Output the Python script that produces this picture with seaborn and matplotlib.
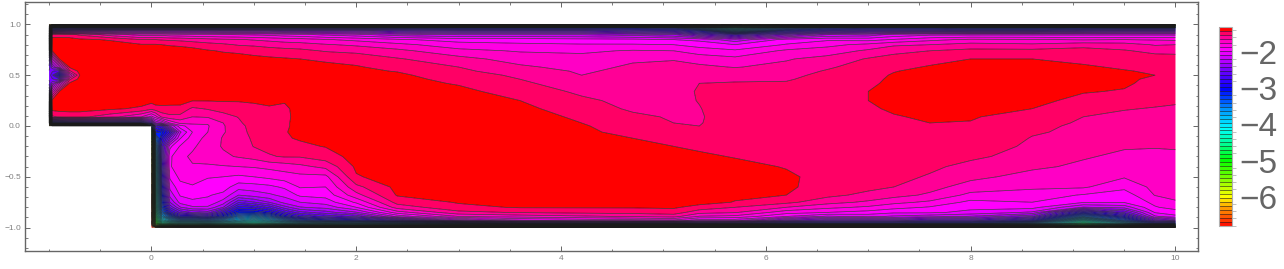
import numpy as np
import seaborn as sns
import matplotlib
matplotlib.use("Agg")
import matplotlib.pyplot as plt
from matplotlib.colors import LinearSegmentedColormap, Normalize
from matplotlib.ticker import MultipleLocator, FixedLocator, FuncFormatter

# grid: log10 values along each x station
y_rows = [1.0, 0.985, 0.965, 0.94, 0.9, 0.85, 0.8, 0.74, 0.66, 0.58,
          0.54, 0.5, 0.46, 0.42, 0.34, 0.25, 0.17, 0.09, 0.03, 0.0,
          -0.06, -0.12, -0.2, -0.3, -0.4, -0.5, -0.6, -0.68, -0.75, -0.8,
          -0.85, -0.89, -0.93, -0.96, -0.98, -1.0]

x_inlet = [-1, -0.97, -0.9, -0.8, -0.7, -0.4, -0.1]
z_inlet = [
    [-6.5, -6, -5.5, -5, -4.8, -4.6, -4.2, -3.2, -2.8, -2.6,
     -2.5, -2.45, -2.5, -2.6, -2.9, -3.4, -4.4, -4.8, -5.5, -6.5],
    [-6, -4.6, -3.3, -2.6, -1.47, -1.38, -1.37, -1.42, -1.95, -2.35,
     -2.5, -2.6, -2.5, -2.35, -1.8, -1.38, -1.38, -1.55, -3.2, -6],
    [-6, -4.4, -3.2, -2.5, -1.47, -1.38, -1.36, -1.36, -1.42, -2.0,
     -2.6, -3.0, -2.6, -2.0, -1.42, -1.36, -1.37, -1.52, -3.1, -6],
    [-6, -4.4, -3.1, -2.45, -1.5, -1.37, -1.35, -1.34, -1.36, -1.40,
     -1.55, -1.85, -1.55, -1.40, -1.36, -1.35, -1.37, -1.5, -3.0, -6],
    [-6, -4.4, -3.1, -2.4, -1.55, -1.4, -1.34, -1.33, -1.34, -1.35,
     -1.38, -1.42, -1.38, -1.35, -1.34, -1.34, -1.37, -1.5, -3.0, -6],
    [-6, -4.4, -3.1, -2.4, -1.7, -1.43, -1.38, -1.35, -1.34, -1.34,
     -1.34, -1.34, -1.34, -1.34, -1.34, -1.35, -1.40, -1.6, -2.9, -6],
    [-6, -4.4, -3.1, -2.4, -1.8, -1.53, -1.41, -1.36, -1.34, -1.34,
     -1.34, -1.34, -1.34, -1.34, -1.34, -1.37, -1.44, -1.75, -3.0, -6],
]

x_channel = [0, 0.04, 0.1, 0.18, 0.28, 0.4, 0.55, 0.7, 0.85, 1, 1.15, 1.3, 1.45, 1.7,
             2, 2.4, 3, 3.6, 4.2, 4.7, 5.1, 5.35, 5.7, 6.2, 6.6, 7, 7.25, 7.6, 8, 8.6,
             9.1, 9.5, 9.8, 10]
z_channel = [
    [-6, -4.4, -3.1, -2.4, -1.8, -1.53, -1.41, -1.36, -1.34, -1.34,
     -1.34, -1.34, -1.34, -1.34, -1.34, -1.38, -1.5, -1.9, -2.6, -3.5,
     -5, -5.5, -5.8, -6, -6.2, -6.3, -6.4, -6.5, -6.5, -6.5, -6.6, -6.6, -6.7, -6.7, -6.8, -6.8],
    [-6, -4.4, -3.1, -2.4, -1.8, -1.53, -1.41, -1.36, -1.34, -1.34,
     -1.34, -1.34, -1.34, -1.34, -1.34, -1.37, -1.46, -1.8, -2.2, -2.6,
     -3, -3.5, -3.8, -4, -4.2, -4.3, -4.4, -4.5, -4.5, -4.6, -4.7, -4.8, -5, -5.2, -5.6, -6.5],
    [-6, -4.4, -3.1, -2.4, -1.8, -1.54, -1.42, -1.36, -1.34, -1.34,
     -1.34, -1.34, -1.34, -1.34, -1.34, -1.39, -1.44, -1.62, -2.1, -2.7,
     -3.1, -2.9, -2.7, -2.7, -2.8, -2.9, -3, -3.1, -3.2, -3.3, -3.5, -3.8, -4.2, -4.6, -5.2, -6.5],
    [-6, -4.4, -3.1, -2.4, -1.82, -1.55, -1.43, -1.37, -1.34, -1.34,
     -1.34, -1.34, -1.34, -1.34, -1.34, -1.38, -1.45, -1.56, -1.85, -2.2,
     -2.75, -2.4, -2, -1.88, -1.88, -1.95, -2.05, -2.15, -2.3, -2.5, -2.8, -3.3, -3.9, -4.5, -5.2, -6.5],
    [-6, -4.4, -3.1, -2.4, -1.83, -1.56, -1.44, -1.37, -1.34, -1.34,
     -1.34, -1.34, -1.34, -1.34, -1.34, -1.37, -1.46, -1.56, -1.72, -1.9,
     -2.1, -1.98, -1.85, -1.78, -1.76, -1.83, -1.9, -1.96, -2.04, -2.2, -2.5, -2.9, -3.6, -4.3, -5, -6.5],
    [-6, -4.4, -3.1, -2.4, -1.84, -1.58, -1.46, -1.38, -1.35, -1.34,
     -1.34, -1.34, -1.34, -1.34, -1.35, -1.415, -1.55, -1.64, -1.72, -1.8,
     -1.86, -1.8, -1.77, -1.73, -1.76, -1.82, -1.87, -1.94, -1.99, -2.1, -2.4, -2.9, -3.6, -4.3, -5, -6.5],
    [-6, -4.4, -3.1, -2.4, -1.85, -1.6, -1.49, -1.41, -1.36, -1.34,
     -1.34, -1.34, -1.34, -1.34, -1.35, -1.415, -1.52, -1.63, -1.74, -1.76,
     -1.75, -1.72, -1.69, -1.69, -1.77, -1.85, -1.92, -1.96, -2, -2.1, -2.35, -2.8, -3.5, -4.2, -5, -6.5],
    [-6, -4.4, -3.1, -2.45, -1.86, -1.62, -1.51, -1.43, -1.37, -1.35,
     -1.34, -1.34, -1.34, -1.34, -1.35, -1.41, -1.49, -1.57, -1.64, -1.65,
     -1.65, -1.63, -1.63, -1.66, -1.76, -1.86, -1.92, -2, -2.13, -2.3, -2.7, -3.1, -3.7, -4.3, -5, -6.5],
    [-6, -4.4, -3.1, -2.45, -1.87, -1.63, -1.54, -1.44, -1.38, -1.35,
     -1.34, -1.34, -1.34, -1.34, -1.35, -1.41, -1.48, -1.525, -1.55, -1.57,
     -1.58, -1.585, -1.6, -1.63, -1.75, -1.88, -2.03, -2.19, -2.5, -2.8, -3.1, -3.5, -3.9, -4.4, -5.1, -6.5],
    [-6, -4.4, -3.1, -2.45, -1.88, -1.65, -1.55, -1.46, -1.39, -1.36,
     -1.35, -1.35, -1.35, -1.35, -1.36, -1.41, -1.44, -1.46, -1.47, -1.48,
     -1.49, -1.51, -1.525, -1.6, -1.74, -1.86, -2.02, -2.14, -2.42, -2.75, -3.1, -3.6, -4.1, -4.5, -5.1, -6.5],
    [-6, -4.4, -3.1, -2.45, -1.9, -1.67, -1.57, -1.48, -1.4, -1.37,
     -1.36, -1.35, -1.35, -1.35, -1.36, -1.41, -1.425, -1.44, -1.45, -1.46,
     -1.47, -1.48, -1.5, -1.54, -1.72, -1.83, -2, -2.1, -2.3, -2.6, -2.95, -3.4, -3.9, -4.4, -5.1, -6.5],
    [-6, -4.4, -3.1, -2.5, -1.93, -1.69, -1.59, -1.49, -1.41, -1.38,
     -1.37, -1.36, -1.36, -1.36, -1.37, -1.415, -1.43, -1.43, -1.43, -1.43,
     -1.425, -1.43, -1.46, -1.52, -1.7, -1.8, -1.95, -2.05, -2.15, -2.35, -2.65, -3, -3.6, -4.2, -5, -6.5],
    [-6, -4.4, -3.1, -2.5, -1.95, -1.7, -1.6, -1.5, -1.42, -1.38,
     -1.37, -1.36, -1.36, -1.36, -1.36, -1.38, -1.4, -1.405, -1.4, -1.4,
     -1.4, -1.41, -1.44, -1.52, -1.67, -1.78, -1.85, -1.95, -2.08, -2.2, -2.45, -2.75, -3.3, -4, -4.8, -6.5],
    [-6, -4.4, -3.1, -2.5, -2, -1.74, -1.63, -1.54, -1.44, -1.39,
     -1.38, -1.37, -1.37, -1.36, -1.36, -1.37, -1.38, -1.38, -1.38, -1.385,
     -1.39, -1.4, -1.415, -1.47, -1.61, -1.78, -1.86, -1.93, -2.03, -2.15, -2.35, -2.6, -3.1, -3.9, -4.7, -6.5],
    [-6, -4.4, -3.1, -2.5, -2.05, -1.78, -1.66, -1.56, -1.46, -1.41,
     -1.4, -1.39, -1.38, -1.37, -1.36, -1.35, -1.35, -1.35, -1.35, -1.35,
     -1.35, -1.36, -1.37, -1.38, -1.4, -1.43, -1.56, -1.68, -1.84, -1.97, -2.2, -2.5, -3, -3.8, -4.6, -6.5],
    [-6, -4.4, -3.1, -2.6, -2.15, -1.84, -1.72, -1.61, -1.52, -1.46,
     -1.425, -1.4, -1.39, -1.38, -1.36, -1.35, -1.34, -1.34, -1.34, -1.34,
     -1.34, -1.34, -1.34, -1.34, -1.35, -1.37, -1.39, -1.41, -1.49, -1.59, -1.8, -2.05, -2.7, -3.6, -4.5, -6.5],
    [-6, -4.4, -3.1, -2.65, -2.2, -1.91, -1.81, -1.72, -1.6, -1.53,
     -1.51, -1.48, -1.45, -1.43, -1.39, -1.37, -1.35, -1.34, -1.34, -1.34,
     -1.34, -1.34, -1.34, -1.34, -1.34, -1.35, -1.37, -1.39, -1.41, -1.45, -1.56, -1.75, -2.2, -3.3, -4.4, -6.5],
    [-6, -4.4, -3.1, -2.65, -2.2, -1.91, -1.84, -1.76, -1.69, -1.62,
     -1.58, -1.55, -1.53, -1.51, -1.47, -1.42, -1.39, -1.37, -1.36, -1.35,
     -1.35, -1.35, -1.35, -1.35, -1.35, -1.36, -1.37, -1.38, -1.39, -1.41, -1.52, -1.7, -2, -3, -4.3, -6.5],
    [-6, -4.4, -3.1, -2.65, -2.2, -1.93, -1.85, -1.77, -1.71, -1.68,
     -1.655, -1.64, -1.61, -1.59, -1.55, -1.51, -1.48, -1.44, -1.42, -1.41,
     -1.4, -1.39, -1.38, -1.37, -1.36, -1.36, -1.37, -1.38, -1.39, -1.41, -1.5, -1.66, -1.95, -2.9, -4.2, -6.5],
    [-6, -4.4, -3.1, -2.75, -2.25, -1.94, -1.85, -1.74, -1.66, -1.62,
     -1.61, -1.6, -1.59, -1.58, -1.57, -1.56, -1.545, -1.51, -1.48, -1.47,
     -1.45, -1.42, -1.4, -1.38, -1.37, -1.365, -1.37, -1.38, -1.395, -1.41, -1.49, -1.63, -1.92, -2.9, -4.2, -6.5],
    [-6, -4.5, -3.2, -2.8, -2.3, -1.97, -1.86, -1.75, -1.645, -1.62,
     -1.6, -1.59, -1.58, -1.575, -1.57, -1.565, -1.555, -1.54, -1.53, -1.525,
     -1.5, -1.46, -1.42, -1.39, -1.37, -1.36, -1.365, -1.37, -1.385, -1.405, -1.47, -1.6, -1.9, -2.9, -4.2, -6.5],
    [-6.2, -4.9, -3.6, -3, -2.5, -2, -1.9, -1.81, -1.68, -1.62,
     -1.59, -1.57, -1.55, -1.53, -1.52, -1.525, -1.535, -1.545, -1.54, -1.53,
     -1.49, -1.46, -1.435, -1.405, -1.38, -1.36, -1.365, -1.37, -1.38, -1.46, -1.6, -1.76, -2.05, -2.85, -4.2, -6.5],
    [-6.3, -5.2, -4.3, -3.7, -2.7, -2.15, -1.97, -1.84, -1.72, -1.645,
     -1.6, -1.57, -1.54, -1.525, -1.5, -1.48, -1.46, -1.445, -1.44, -1.44,
     -1.445, -1.44, -1.435, -1.425, -1.395, -1.37, -1.38, -1.4, -1.425, -1.53, -1.63, -1.78, -2.05, -2.9, -4.2, -6.5],
    [-6, -4.7, -3.5, -3, -2.4, -1.93, -1.85, -1.73, -1.65, -1.61,
     -1.58, -1.56, -1.54, -1.52, -1.5, -1.48, -1.47, -1.46, -1.45, -1.45,
     -1.45, -1.445, -1.445, -1.44, -1.425, -1.405, -1.4, -1.42, -1.5, -1.64, -1.81, -1.97, -2.4, -3.1, -4.3, -6.5],
    [-6, -4.5, -3.2, -2.8, -2.2, -1.88, -1.78, -1.7, -1.6, -1.545,
     -1.52, -1.5, -1.49, -1.48, -1.46, -1.45, -1.445, -1.44, -1.44, -1.44,
     -1.44, -1.44, -1.44, -1.44, -1.44, -1.45, -1.47, -1.5, -1.6, -1.72, -1.86, -2.1, -2.5, -3.1, -4.3, -6.5],
    [-6, -4.4, -3.1, -2.7, -2.15, -1.9, -1.72, -1.62, -1.52, -1.48,
     -1.465, -1.455, -1.45, -1.44, -1.42, -1.42, -1.43, -1.44, -1.44, -1.45,
     -1.455, -1.46, -1.46, -1.47, -1.47, -1.48, -1.5, -1.56, -1.66, -1.77, -1.9, -2.05, -2.5, -3.1, -4.3, -6.5],
    [-6, -4.4, -3.1, -2.7, -2.05, -1.85, -1.66, -1.56, -1.49, -1.45,
     -1.425, -1.41, -1.4, -1.395, -1.39, -1.395, -1.41, -1.425, -1.44, -1.44,
     -1.445, -1.45, -1.46, -1.47, -1.485, -1.5, -1.53, -1.6, -1.72, -1.82, -1.95, -2.1, -2.5, -3.1, -4.3, -6.5],
    [-6, -4.4, -3.1, -2.7, -2, -1.78, -1.64, -1.53, -1.46, -1.41,
     -1.39, -1.38, -1.37, -1.37, -1.37, -1.38, -1.4, -1.41, -1.42, -1.425,
     -1.43, -1.44, -1.46, -1.48, -1.51, -1.54, -1.6, -1.66, -1.77, -1.87, -1.95, -2.15, -2.6, -3.2, -4.4, -6.5],
    [-6, -4.4, -3.2, -2.75, -2, -1.73, -1.6, -1.5, -1.42, -1.39,
     -1.38, -1.37, -1.365, -1.36, -1.36, -1.37, -1.39, -1.41, -1.425, -1.43,
     -1.44, -1.45, -1.47, -1.51, -1.56, -1.61, -1.69, -1.78, -1.89, -1.94, -2, -2.2, -2.6, -3.2, -4.4, -6.5],
    [-6, -4.4, -3.2, -2.75, -2, -1.74, -1.62, -1.5, -1.42, -1.39,
     -1.385, -1.38, -1.375, -1.37, -1.38, -1.4, -1.42, -1.47, -1.5, -1.51,
     -1.52, -1.535, -1.55, -1.57, -1.62, -1.68, -1.73, -1.8, -1.86, -1.93, -2.1, -2.4, -2.9, -3.6, -4.6, -6.5],
    [-6, -4.4, -3.1, -2.65, -2, -1.76, -1.57, -1.49, -1.44, -1.41,
     -1.405, -1.4, -1.4, -1.405, -1.415, -1.44, -1.49, -1.53, -1.54, -1.545,
     -1.55, -1.57, -1.585, -1.63, -1.66, -1.69, -1.735, -1.87, -1.96, -2.2, -2.9, -3.5, -4.3, -4.7, -5.3, -6.7],
    [-6, -4.4, -3.1, -2.6, -2, -1.75, -1.59, -1.52, -1.47, -1.43,
     -1.415, -1.41, -1.41, -1.41, -1.425, -1.48, -1.525, -1.55, -1.56, -1.57,
     -1.59, -1.61, -1.63, -1.66, -1.7, -1.74, -1.83, -1.92, -1.96, -2.15, -2.5, -2.9, -3.4, -4, -4.9, -6.5],
    [-6, -4.4, -3.1, -2.6, -2, -1.76, -1.65, -1.56, -1.48, -1.44,
     -1.43, -1.42, -1.43, -1.44, -1.47, -1.51, -1.535, -1.555, -1.57, -1.58,
     -1.6, -1.62, -1.635, -1.66, -1.68, -1.7, -1.72, -1.745, -1.83, -1.87, -1.96, -2.1, -2.5, -3.1, -4.3, -6.5],
    [-6, -4.4, -3.1, -2.6, -2, -1.77, -1.64, -1.56, -1.49, -1.46,
     -1.45, -1.45, -1.46, -1.47, -1.49, -1.52, -1.54, -1.56, -1.57, -1.58,
     -1.6, -1.61, -1.635, -1.65, -1.67, -1.69, -1.71, -1.725, -1.76, -1.82, -1.91, -2, -2.4, -3.1, -4.3, -6.5],
]

cbar_ticks = [-2, -3, -4, -5, -6]
color_stops = [(-6.83, "#ff0000"), (-6.4, "#ff8000"), (-6.0, "#ffff00"), (-5.5, "#80ff00"),
               (-5.0, "#00ff00"), (-4.55, "#00ff90"), (-4.1, "#00ffff"), (-3.55, "#0090ff"),
               (-3.0, "#0000ff"), (-2.5, "#7000ff"), (-2.1, "#d800ff"), (-1.92, "#ff00ff"),
               (-1.81, "#ff00e8"), (-1.695, "#ff00c8"), (-1.585, "#ff0098"), (-1.475, "#ff0068"),
               (-1.365, "#ff0000"), (-1.31, "#ff0000")]

sns.set_theme(style="ticks")
plt.rcParams["font.family"] = ["Liberation Sans", "DejaVu Sans"]

vmin, vmax = color_stops[0][0], color_stops[-1][0]
cmap = LinearSegmentedColormap.from_list(
    "bands", [((v - vmin) / (vmax - vmin), c) for v, c in color_stops], N=512)
# steps of 0.11 ending on -1.31, so -1.42 is the edge of the red region
levels = np.round(-1.31 - 0.11 * np.arange(50, -1, -1), 2)

# the inlet stations stop at the y=0 wall, below it there is no flow
x_all = np.array(x_inlet + x_channel)
pad = [np.nan] * (len(y_rows) - len(z_inlet[0]))
z_all = np.array([col + pad for col in z_inlet] + z_channel).T
z_all = np.ma.masked_invalid(z_all)
y_all = np.array(y_rows)

grey = "#666666"
fig = plt.figure(figsize=(12.84, 2.69), dpi=100)
ax = fig.add_axes([25 / 1284, 1 - 251 / 269, 1173 / 1284, 249.5 / 269])
cs = ax.contourf(x_all, y_all, z_all, levels=levels, cmap=cmap, corner_mask=False,
                 norm=Normalize(vmin, vmax), antialiased=True)
# every level is negative, so the solid style has to be asked for
lines = ax.contour(x_all, y_all, z_all, levels=levels, colors="k", corner_mask=False,
                   linewidths=0.5, alpha=0.8, linestyles="solid")

ax.set_xlim(-1.235, 10.22)
ax.set_ylim(-1.23, 1.225)
ax.xaxis.set_major_locator(MultipleLocator(2))
ax.xaxis.set_minor_locator(MultipleLocator(0.5))
ax.yaxis.set_major_locator(MultipleLocator(0.5))
ax.yaxis.set_minor_locator(MultipleLocator(0.1))
ax.yaxis.set_major_formatter(FuncFormatter(lambda v, p: f"{v:.1f}".replace("-", "\u2212")))
ax.tick_params(which="major", direction="in", length=3.5, width=0.7, color=grey,
               labelsize=6, labelcolor="#808080", top=True, right=True, pad=3)
ax.tick_params(which="minor", direction="in", length=1.8, width=0.6, color=grey,
               top=True, right=True)
for s in ax.spines.values():
    s.set_color(grey)
    s.set_linewidth(1.0)

cax = fig.add_axes([1219 / 1284, 1 - 226 / 269, 13 / 1284, 199 / 269])
cb = fig.colorbar(cs, cax=cax, ticks=cbar_ticks)
cb.add_lines(lines)
cb.ax.yaxis.set_minor_locator(FixedLocator(np.arange(-6.8, -1.3, 0.2)))
cb.ax.set_yticklabels(["\u2212" + str(abs(t)) for t in cbar_ticks])
cb.ax.tick_params(which="major", length=0, labelsize=24, labelcolor=grey, pad=5)
cb.ax.tick_params(which="minor", length=3, width=0.7, color="#c0c0c0")
cb.outline.set_edgecolor("#b0b0b0")
cb.outline.set_linewidth(0.8)

fig.savefig("out.png", dpi=100)
